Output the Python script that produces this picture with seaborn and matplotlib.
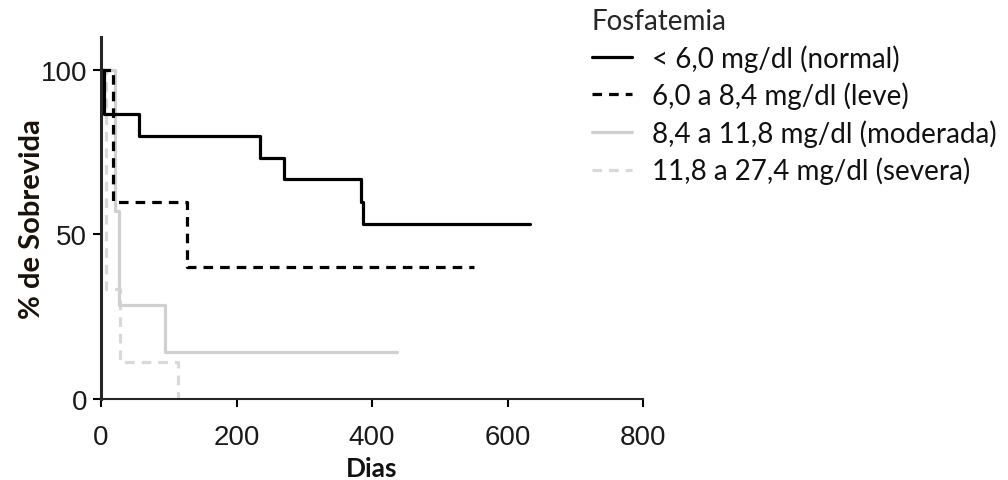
import matplotlib
matplotlib.use("Agg")
import matplotlib.pyplot as plt
from matplotlib import font_manager
from matplotlib.lines import Line2D
import seaborn as sns
import pandas as pd

# ---- data ----
grupos = ["< 6,0 mg/dl (normal)", "6,0 a 8,4 mg/dl (leve)",
          "8,4 a 11,8 mg/dl (moderada)", "11,8 a 27,4 mg/dl (severa)"]
normal_dias = [0, 5, 56, 234, 270, 384, 386, 633]
normal_surv = [100, 86.7, 80.0, 73.3, 66.7, 60.0, 53.3, 53.3]
leve_dias = [0, 18, 127, 551]
leve_surv = [100, 60.0, 40.0, 40.0]
moderada_dias = [0, 20, 26, 94, 437]
moderada_surv = [100, 57.1, 28.6, 14.3, 14.3]
severa_dias = [0, 8, 28, 114]
severa_surv = [100, 33.3, 11.1, 0.0]
x_ticks = [0, 200, 400, 600, 800]
y_ticks = [0, 50, 100]
legend_title = "Fosfatemia"
x_label = "Dias"
y_label = "% de Sobrevida"

sns.set_theme(style="ticks")
names = {f.name for f in font_manager.fontManager.ttflist}
tick_font = "Liberation Sans"
label_font = "Lato" if "Lato" in names else "DejaVu Sans"
plt.rcParams["font.family"] = [label_font, "DejaVu Sans"]

fig = plt.figure(figsize=(10.08, 4.81), dpi=100)
ax = fig.add_axes([101 / 1008, 1 - 400 / 481, (643 - 101) / 1008, (400 - 38) / 481])

series = [
    (grupos[3], severa_dias, severa_surv, "#d9d9d9", (0, (3.0, 2.2))),
    (grupos[2], moderada_dias, moderada_surv, "#d0d0d0", "-"),
    (grupos[1], leve_dias, leve_surv, "black", (0, (3.0, 2.2))),
    (grupos[0], normal_dias, normal_surv, "black", "-"),
]
handles = {}
for name, d, s, col, ls in series:
    df = pd.DataFrame({"dia": d, "surv": s})
    sns.lineplot(data=df, x="dia", y="surv", ax=ax, color=col, linestyle=ls,
                 linewidth=2.3, drawstyle="steps-post", estimator=None,
                 sort=False, clip_on=False)
    handles[name] = Line2D([0], [0], color=col, linestyle=ls, linewidth=2.3)

ax.set_xlim(0, 800)
ax.set_ylim(0, 110)
ax.set_xticks(x_ticks)
ax.set_yticks(y_ticks)
sns.despine(ax=ax)
ax.spines["left"].set_linewidth(2.2)
ax.spines["bottom"].set_linewidth(1.5)
ax.tick_params(axis="both", direction="out", length=6, width=1.5, colors="black",
               labelsize=20)
ax.tick_params(axis="x", pad=12)
ax.tick_params(axis="y", pad=4)
for lab in ax.get_xticklabels() + ax.get_yticklabels():
    lab.set_fontfamily(tick_font)
    lab.set_color("#1a1a1a")

ax.set_xlabel(x_label, fontsize=19, fontweight="bold", labelpad=4, color="#111111")
ax.set_ylabel(y_label, fontsize=21, fontweight="bold", labelpad=-3, color="#1a1208")

leg = ax.legend([handles[g] for g in grupos], grupos, title=legend_title,
                loc="upper left", bbox_to_anchor=(592 / 1008, 1 - 9 / 481),
                bbox_transform=fig.transFigure, frameon=False, fontsize=20,
                title_fontsize=20, handlelength=1.45, handletextpad=0.72,
                labelspacing=0.36, borderpad=0, borderaxespad=0, alignment="left")
for t in leg.get_texts():
    t.set_color("#111111")

fig.savefig("out.png", dpi=100)
